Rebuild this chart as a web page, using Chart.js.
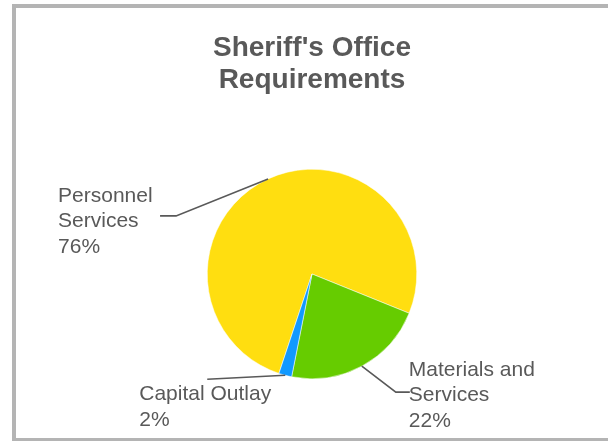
<!DOCTYPE html>
<html>
<head>
<meta charset="utf-8">
<script src="https://cdn.jsdelivr.net/npm/chart.js@4.4.1/dist/chart.umd.min.js"></script>
<style>
  html, body { margin: 0; padding: 0; background: #fff; overflow: hidden; }
  body { width: 608px; height: 441px; position: relative; }
  #frame {
    position: absolute; left: 12px; top: 4px; width: 620px; height: 438px;
    border: 4px solid #b4b4b4; box-sizing: border-box;
  }
  #wrap { position: absolute; left: 16px; top: 8px; width: 592px; height: 430px; }
</style>
</head>
<body>
<div id="frame"></div>
<div id="wrap"><canvas id="budgetPie"></canvas></div>
<script>
// Budget categories and their share of the total (%)
const categories = ["Personnel Services", "Materials and Services", "Capital Outlay"];
const labelLines = [["Personnel", "Services"], ["Materials and", "Services"], ["Capital Outlay"]];
const shares = [76, 22, 2];
const sliceColors = ["#FFDE10", "#66CC00", "#1199FF"];

const textColor = "#595959";
const fontFamily = "'Liberation Sans', Arial, sans-serif";

// where each callout sits, relative to the slice's outer midpoint
const callouts = [
  { elbow: [-92, 37], end: [-108, 37], text: [-210, 23] },
  { elbow: [34, 26], end: [48, 26], text: [47, 10] },
  { elbow: null, end: [-78, 4], text: [-146, 25] }
];

const calloutPlugin = {
  id: "callouts",
  afterDatasetsDraw(chart) {
    const ctx = chart.ctx;
    const meta = chart.getDatasetMeta(0);
    ctx.save();
    ctx.strokeStyle = textColor;
    ctx.lineWidth = 1.6;
    ctx.fillStyle = textColor;
    ctx.font = "21px " + fontFamily;
    ctx.textBaseline = "alphabetic";
    ctx.textAlign = "left";
    meta.data.forEach((arc, i) => {
      const p = arc.getProps(["x", "y", "startAngle", "endAngle", "outerRadius"], true);
      const mid = (p.startAngle + p.endAngle) / 2;
      const ax = p.x + Math.cos(mid) * p.outerRadius;
      const ay = p.y + Math.sin(mid) * p.outerRadius;
      const c = callouts[i];
      ctx.beginPath();
      ctx.moveTo(ax, ay);
      if (c.elbow) ctx.lineTo(ax + c.elbow[0], ay + c.elbow[1]);
      ctx.lineTo(ax + c.end[0], ay + c.end[1]);
      ctx.stroke();
      const lines = labelLines[i].concat([shares[i] + "%"]);
      lines.forEach((t, k) => {
        ctx.fillText(t, ax + c.text[0], ay + c.text[1] + k * 25.3);
      });
    });
    ctx.restore();
  }
};

new Chart(document.getElementById("budgetPie"), {
  type: "pie",
  data: {
    labels: categories,
    datasets: [{
      data: shares,
      backgroundColor: sliceColors,
      borderColor: "#ffffff",
      borderWidth: 0.5
    }]
  },
  options: {
    responsive: true,
    maintainAspectRatio: false,
    animation: false,
    rotation: 198.4,
    layout: { padding: { top: 0, bottom: 59, left: 0, right: 0 } },
    plugins: {
      legend: { display: false },
      tooltip: { enabled: false },
      title: {
        display: true,
        text: ["Sheriff's Office", "Requirements"],
        color: textColor,
        font: { family: fontFamily, size: 28, weight: "bold", lineHeight: 32 / 28 },
        padding: { top: 24, bottom: 73 }
      }
    }
  },
  plugins: [calloutPlugin]
});
</script>
</body>
</html>
